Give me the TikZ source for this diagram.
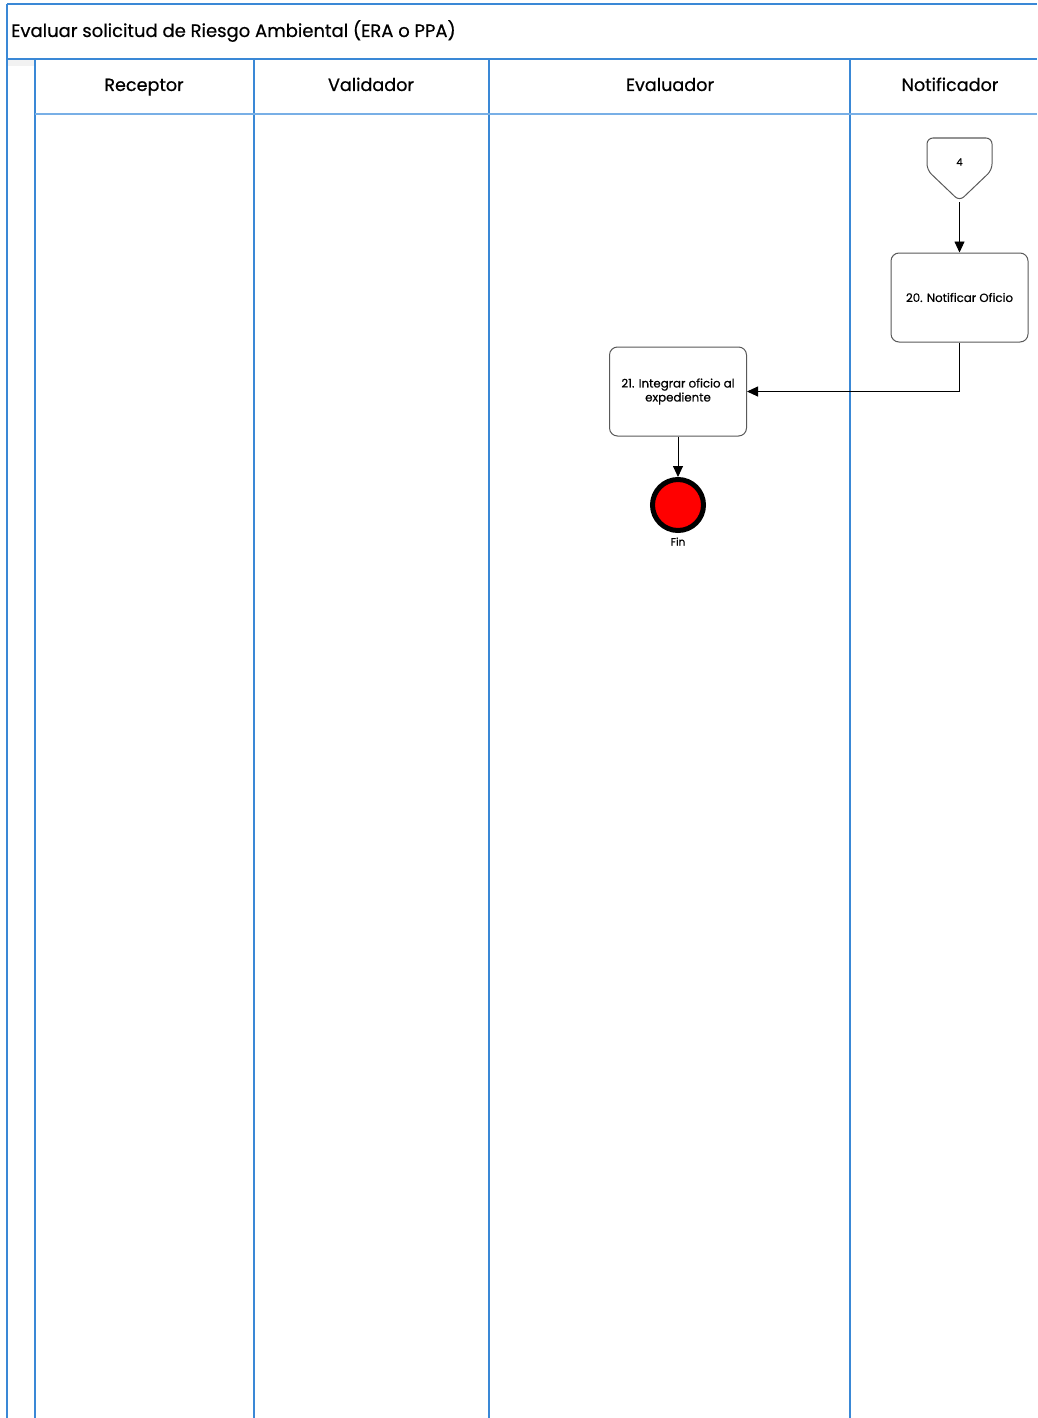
\documentclass[tikz,border=0pt]{standalone}
\usepackage{fontspec}
\setmainfont{Poppins}[FakeBold=0.6]
\usetikzlibrary{arrows.meta,positioning}
\definecolor{lane}{RGB}{58,136,214}
\definecolor{lanelt}{RGB}{120,175,230}
\definecolor{finred}{RGB}{255,0,0}
\def\Pool{(7,4) -- (1037,4) (7,4) -- (7,1418) (7,59) -- (1037,59)}
\def\Lanes{(35,59) -- (35,1418) (254,59) -- (254,1418) (489,59) -- (489,1418) (850,59) -- (850,1418)}
\tikzset{
  lanehead/.style={font=\fontsize{17.6}{20}\selectfont, text=black, anchor=base},
  task/.style={draw=black!65, line width=1pt, rounded corners=8pt, fill=white, minimum width=137pt, minimum height=89pt,
    align=center, font=\fontsize{11.8}{14}\selectfont, inner sep=2pt},
  flow/.style={draw=black, line width=0.9pt, -{Triangle[length=11pt,width=10pt]}},
}

\begin{document}
\begin{tikzpicture}[x=1pt,y=-1pt]
    \useasboundingbox (0,0) rectangle (1037,1418);
    % pool and lanes
    \fill[black!5] (7,59) rectangle (35,66);
    \draw[lane, line width=1.5pt] \Pool;
    \draw[lane, line width=1.5pt] \Lanes;
    \draw[lanelt, line width=1.5pt] (35,114) -- (1037,114);
    \node[lanehead, font=\fontsize{18}{20}\selectfont, anchor=base west, inner sep=0pt] (title) at (11,37) {Evaluar solicitud de Riesgo Ambiental (ERA o PPA)};
    \node[lanehead] (receptor) at (144,91) {Receptor};
    \node[lanehead] (validador) at (371,91) {Validador};
    \node[lanehead] (evaluador) at (670,91) {Evaluador};
    \node[lanehead] (notificador) at (950,91) {Notificador};

    % off-page connector
    \draw[black!65, line width=1pt, rounded corners=6pt] (927,170) -- (927,138) -- (992,138) -- (992,170) -- (959.5,201) -- cycle;
    \node[font=\fontsize{10}{12}\selectfont] (c4) at (959.5,162) {4};
    \coordinate (c4tip) at (959.5,202);

    % tasks
    \node[task] (n20) at (959.5,297.5) {20. Notificar Oficio};
    \node[task] (n21) at (678,391.5) {21. Integrar oficio al\\expediente};

    % end event
    \node[circle, draw=black, line width=5pt, fill=finred, minimum size=51pt, inner sep=0pt] (fin) at (678,505) {};
    \node[font=\fontsize{10.5}{12}\selectfont, below=1pt of fin] (finlbl) {Fin};

    \draw[flow] (c4tip) -- (n20);
    \draw[flow] (n20.south) |- (n21.east);
    \draw[flow] (n21) -- (fin);
  \end{tikzpicture}
\end{document}
